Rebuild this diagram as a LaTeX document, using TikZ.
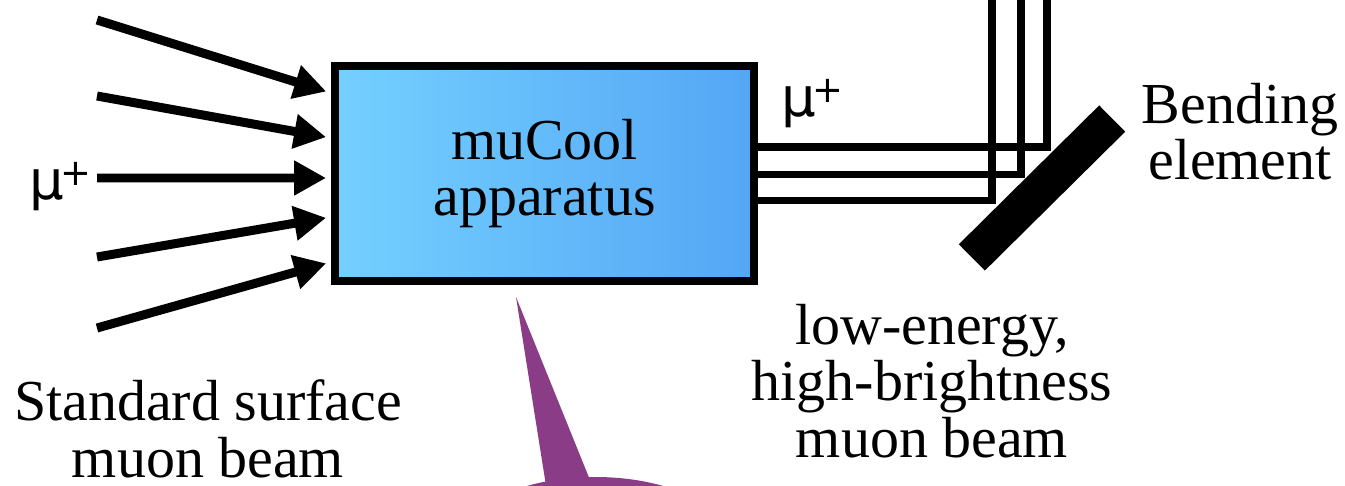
\documentclass[tikz,border=0pt]{standalone}
\usepackage{fontspec}
\setmainfont{Liberation Serif}
\newfontfamily\sansmu{DejaVu Sans}
\usetikzlibrary{arrows.meta,calc}
\definecolor{boxA}{RGB}{116,208,255}
\definecolor{boxB}{RGB}{84,166,245}
\definecolor{callout}{RGB}{139,60,135}
\newcommand{\muplus}{μ\kern-2pt\raisebox{8pt}{\fontsize{21}{21}\selectfont +}}
\begin{document}
\begin{tikzpicture}[x=0.02cm,y=-0.02cm,
  lbl/.style={font=\fontsize{33}{32}\selectfont, align=center, inner sep=0pt, anchor=base},
  mulbl/.style={font=\sansmu\fontsize{31}{31}\selectfont, inner sep=0pt, anchor=base west},
  beamin/.style={line width=0.18cm, -{Triangle[length=0.64cm,width=0.66cm]}, shorten >=0.1cm},
  beamout/.style={line width=0.146cm, line join=miter},
  appbox/.style={draw=black, line width=0.16cm, minimum width=8.38cm, minimum height=4.3cm,
    left color=boxA, right color=boxB, inner sep=0pt, align=center,
    font=\fontsize{33}{32}\selectfont}]
\path[use as bounding box, clip] (0,0) rectangle (1345,486);

% callout (purple)
\fill[callout] (516,297) -- (547,492) -- (590,480) -- cycle;
\fill[callout] (595,530) ellipse [x radius=122, y radius=53];

% apparatus box
\node[appbox] (box) at (544.5,173.5) {muCool\\apparatus};

% incoming beam
\coordinate (s1) at (97,20);
\coordinate (s2) at (97,96);
\coordinate (s3) at (97,178);
\coordinate (s4) at (97,257);
\coordinate (s5) at (97,328);
\draw[beamin] (s1) -- ($(box.west)+(0,-80.5)$);
\draw[beamin] (s2) -- ($(box.west)+(0,-35.5)$);
\draw[beamin] (s3) -- ($(box.west)+(0,4.5)$);
\draw[beamin] (s4) -- ($(box.west)+(0,43.5)$);
\draw[beamin] (s5) -- ($(box.west)+(0,88.5)$);
\node[mulbl] (muin) at (29,200) {\muplus};

% outgoing beam
\coordinate (o1) at (1047,-20);
\coordinate (o2) at (1021,-20);
\coordinate (o3) at (992,-20);
\draw[beamout] ($(box.east)+(0,-26.5)$) -| (o1);
\draw[beamout] ($(box.east)+(0,1)$) -| (o2);
\draw[beamout] ($(box.east)+(0,27)$) -| (o3);
\node[mulbl] (muout) at (781,117) {\muplus};

% bending element
\node[fill=black, inner sep=0pt, minimum width=3.95cm, minimum height=0.74cm, rotate=44.7] (bend) at (1042,188) {};
\node[lbl] (bendlbl) at (1240,180) {Bending\\element};

% labels
\node[lbl] (stdlbl) at (208,477) {Standard surface\\muon beam};
\node[lbl] (lowlbl) at (932,457) {low-energy,\\high-brightness\\muon beam};
\end{tikzpicture}
\end{document}
